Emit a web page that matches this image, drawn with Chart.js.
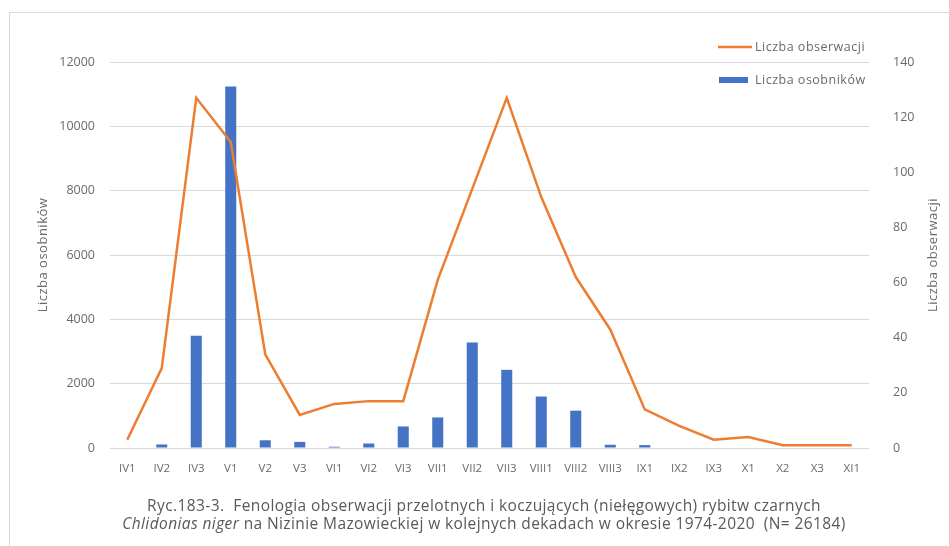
<!DOCTYPE html>
<html lang="pl">
<head>
<meta charset="utf-8">
<title>Ryc.183-3 Fenologia rybitwy czarnej</title>
<script src="https://cdn.jsdelivr.net/npm/chart.js@4.4.1/dist/chart.umd.min.js"></script>
<style>
    html, body {
        margin: 0;
        padding: 0;
        width: 949px;
        height: 546px;
        overflow: hidden;
        background: #ffffff;
    }
    #frame {
        position: absolute;
        left: 9px;
        top: 12px;
        width: 1000px;
        height: 600px;
        border: 1px solid #d9d9d9;
    }
    #chartBox {
        position: absolute;
        left: 0;
        top: 0;
        width: 949px;
        height: 546px;
    }
    #caption {
        position: absolute;
        left: 0;
        top: 496px;
        width: 968px;
        text-align: center;
        font-family: "Open Sans", sans-serif;
        font-size: 15.5px;
        letter-spacing: 0.4px;
        line-height: 18px;
        color: #595959;
    }
</style>
</head>
<body>
<div id="frame"></div>
<div id="chartBox"><canvas id="chart"></canvas></div>
<div id="caption">
    Ryc.183-3.&nbsp; Fenologia obserwacji przelotnych i koczujących (niełęgowych) rybitw czarnych<br>
    <i>Chlidonias niger</i> na Nizinie Mazowieckiej w kolejnych dekadach w okresie 1974-2020&nbsp; (N= 26184)
</div>

<script>
// dekady miesięcy
const categories = ['IV1', 'IV2', 'IV3', 'V1', 'V2', 'V3', 'VI1', 'VI2', 'VI3', 'VII1', 'VII2',
    'VII3', 'VIII1', 'VIII2', 'VIII3', 'IX1', 'IX2', 'IX3', 'X1', 'X2', 'X3', 'XI1'];

// Liczba osobników (oś lewa)
const liczbaOsobnikow = [0, 110, 3490, 11240, 240, 190, 40, 140, 670, 950, 3280,
    2430, 1600, 1160, 100, 90, 0, 0, 0, 0, 0, 0];

// Liczba obserwacji (oś prawa)
const liczbaObserwacji = [3, 29, 127, 111, 34, 12, 16, 17, 17, 61, 94,
    127, 91, 62, 43, 14, 8, 3, 4, 1, 1, 1];

const leftTicks = [0, 2000, 4000, 6000, 8000, 10000, 12000];
const rightTicks = [0, 20, 40, 60, 80, 100, 120, 140];

const ORANGE = '#ED7D31';
const BLUE = '#4472C4';
const TEXT = '#6a6a6a';
const GRID = '#d9d9d9';
const FONT = '"Open Sans", sans-serif';

// legenda pionowa w obszarze wykresu + tytuły osi (oba czytane od dołu, jak w Excelu)
const excelDecor = {
    id: 'excelDecor',
    afterDraw(chart) {
        const ctx = chart.ctx;
        const area = chart.chartArea;
        const midY = (area.top + area.bottom) / 2;
        ctx.save();
        ctx.letterSpacing = '0.5px';
        ctx.font = '12.5px ' + FONT;
        ctx.textBaseline = 'middle';
        ctx.textAlign = 'left';

        ctx.strokeStyle = ORANGE;
        ctx.lineWidth = 2.5;
        ctx.beginPath();
        ctx.moveTo(718, 47);
        ctx.lineTo(752, 47);
        ctx.stroke();
        ctx.fillStyle = TEXT;
        ctx.fillText(chart.data.datasets[0].label, 755, 47);

        ctx.fillStyle = BLUE;
        ctx.fillRect(719, 77, 29, 6);
        ctx.fillStyle = TEXT;
        ctx.fillText(chart.data.datasets[1].label, 755, 80);

        ctx.font = '13px ' + FONT;
        ctx.textAlign = 'center';
        [[43, 'Liczba osobników'], [933, 'Liczba obserwacji']].forEach(([x, text]) => {
            ctx.save();
            ctx.translate(x, midY);
            ctx.rotate(-Math.PI / 2);
            ctx.fillText(text, 0, 0);
            ctx.restore();
        });
        ctx.restore();
    }
};

function initChart() {
    const ctx = document.getElementById('chart').getContext('2d');
    return new Chart(ctx, {
        type: 'bar',
        data: {
            labels: categories,
            datasets: [
                {
                    type: 'line',
                    label: 'Liczba obserwacji',
                    data: liczbaObserwacji,
                    borderColor: ORANGE,
                    backgroundColor: ORANGE,
                    borderWidth: 2.5,
                    pointRadius: 0,
                    tension: 0,
                    yAxisID: 'y1',
                    order: 0
                },
                {
                    type: 'bar',
                    label: 'Liczba osobników',
                    data: liczbaOsobnikow,
                    backgroundColor: BLUE,
                    barPercentage: 0.32,
                    categoryPercentage: 1,
                    yAxisID: 'y',
                    order: 1
                }
            ]
        },
        options: {
            responsive: true,
            maintainAspectRatio: false,
            animation: false,
            layout: {
                padding: { top: 62, left: 0, right: 0, bottom: 0 }
            },
            plugins: {
                legend: { display: false },
                tooltip: { enabled: false }
            },
            scales: {
                x: {
                    grid: { display: false },
                    border: { display: false },
                    ticks: {
                        color: TEXT,
                        font: { family: FONT, size: 11.5 },
                        padding: 6,
                        maxRotation: 0,
                        autoSkip: false
                    },
                    afterFit: (scale) => { scale.height = 98; }
                },
                y: {
                    position: 'left',
                    min: 0,
                    max: 12000,
                    afterBuildTicks: (scale) => { scale.ticks = leftTicks.map(v => ({ value: v })); },
                    grid: { color: GRID, lineWidth: 1, drawTicks: false },
                    border: { display: false },
                    ticks: {
                        color: TEXT,
                        font: { family: FONT, size: 12.5 },
                        padding: 15,
                        callback: (v) => String(v)
                    },
                    afterFit: (scale) => { scale.width = 110; }
                },
                y1: {
                    position: 'right',
                    min: 0,
                    max: 140,
                    afterBuildTicks: (scale) => { scale.ticks = rightTicks.map(v => ({ value: v })); },
                    grid: { drawOnChartArea: false, drawTicks: false },
                    border: { display: false },
                    ticks: {
                        color: TEXT,
                        font: { family: FONT, size: 12.5 },
                        padding: 24,
                        callback: (v) => String(v)
                    },
                    afterFit: (scale) => { scale.width = 80; }
                }
            }
        },
        plugins: [excelDecor]
    });
}

document.addEventListener('DOMContentLoaded', () => {
    window.chart = initChart();
});
</script>
</body>
</html>
